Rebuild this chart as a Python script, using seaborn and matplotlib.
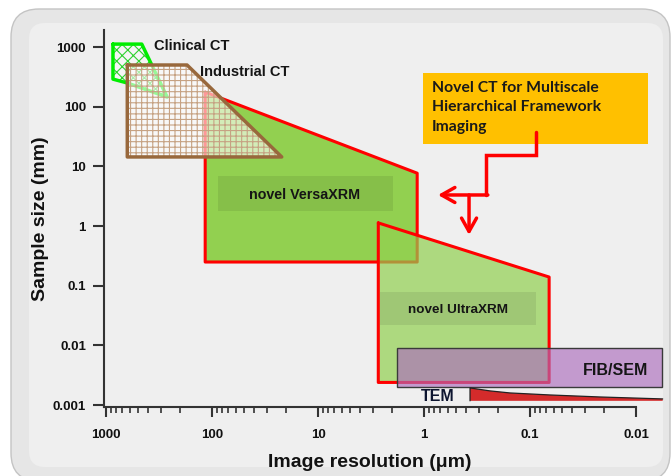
import numpy as np
import pandas as pd
import seaborn as sns
import matplotlib.pyplot as plt
from matplotlib.patches import FancyBboxPatch
from matplotlib.ticker import LogLocator, NullLocator, NullFormatter, FixedLocator, FixedFormatter

# regions: image resolution (um) vs sample size (mm)
clinical_res = [860, 460, 265, 630, 860]
clinical_size = [1120, 1120, 145, 250, 290]
industrial_res = [630, 172, 22, 630]
industrial_size = [500, 500, 14.4, 14.4]
versa_res = [116, 1.16, 1.16, 116]
versa_size = [176, 7.7, 0.25, 0.25]
ultra_res = [2.7, 0.066, 0.066, 2.7]
ultra_size = [1.13, 0.14, 0.0024, 0.0024]
fib_res = [1.8, 0.0057, 0.0057, 1.8]
fib_size = [0.0091, 0.0091, 0.002, 0.002]
tem_res = [0.368, 0.238, 0.155, 0.065, 0.022, 0.0056, 0.0056, 0.368]
tem_size = [0.00194, 0.00173, 0.0016, 0.00148, 0.00137, 0.00127, 0.00118, 0.00118]

res_ticks = [1000, 100, 10, 1, 0.1, 0.01]
res_labels = ['1000', '100', '10', '1', '0.1', '0.01']
size_ticks = [1000, 100, 10, 1, 0.1, 0.01, 0.001]
size_labels = ['1000', '100', '10', '1', '0.1', '0.01', '0.001']

shapes = {
    'Clinical CT': (clinical_res, clinical_size),
    'Industrial CT': (industrial_res, industrial_size),
    'VersaXRM': (versa_res, versa_size),
    'UltraXRM': (ultra_res, ultra_size),
}
df = pd.concat([pd.DataFrame({'shape': k, 'res': r + r[:1], 'size': s + s[:1]})
                for k, (r, s) in shapes.items()], ignore_index=True)

sns.set_theme(style='ticks')
plt.rcParams['font.family'] = ['Liberation Sans', 'DejaVu Sans']
plt.rcParams['hatch.linewidth'] = 0.8

fig = plt.figure(figsize=(6.71, 4.76), dpi=100)
fig.patch.set_facecolor('white')
# rounded grey slide panel
fig.add_artist(FancyBboxPatch((0.11, -0.05), 6.59, 4.72, boxstyle='round,pad=0,rounding_size=0.28',
                              transform=fig.dpi_scale_trans, facecolor='#e6e6e6', edgecolor='#c4c4c4',
                              lw=1, zorder=-10))
fig.add_artist(FancyBboxPatch((0.29, 0.09), 6.34, 4.44, boxstyle='round,pad=0,rounding_size=0.16',
                              transform=fig.dpi_scale_trans, facecolor='#efefef', edgecolor='none',
                              zorder=-9))

ax = fig.add_axes([104 / 671, 69 / 476, 532 / 671, 377 / 476])
ax.set_facecolor('none')
ax.set_xscale('log')
ax.set_yscale('log')

# VersaXRM
ax.fill(versa_res, versa_size, color='#92d050', lw=0, zorder=1)
sns.lineplot(data=df[df['shape'] == 'VersaXRM'], x='res', y='size', sort=False, estimator=None,
             color='red', lw=2.2, zorder=1.1, ax=ax, legend=False)
# Clinical CT
ax.fill(clinical_res, clinical_size, facecolor='white', alpha=0.4, lw=0, zorder=1.5)
ax.fill(clinical_res, clinical_size, facecolor='none', edgecolor='#2fd12f', hatch='xxx', lw=0, zorder=1.55)
sns.lineplot(data=df[df['shape'] == 'Clinical CT'], x='res', y='size', sort=False, estimator=None,
             color='#00ee00', lw=2.5, zorder=1.6, ax=ax, legend=False)
# Industrial CT
ax.fill(industrial_res, industrial_size, facecolor='white', alpha=0.6, lw=0, zorder=2)
ax.fill(industrial_res, industrial_size, facecolor='none', edgecolor='#c6a283', hatch='+++', lw=0, zorder=2.1)
sns.lineplot(data=df[df['shape'] == 'Industrial CT'], x='res', y='size', sort=False, estimator=None,
             color='#98683c', lw=2.5, zorder=2.2, ax=ax, legend=False)
# UltraXRM
ax.fill(ultra_res, ultra_size, color='#92d050', alpha=0.7, lw=0, zorder=3)
sns.lineplot(data=df[df['shape'] == 'UltraXRM'], x='res', y='size', sort=False, estimator=None,
             color='red', lw=2.2, zorder=3.1, ax=ax, legend=False)
# FIB/SEM and TEM
ax.fill(fib_res, fib_size, facecolor='#ac6dbd', alpha=0.65, edgecolor='none', zorder=4, clip_on=False)
ax.fill(fib_res, fib_size, facecolor='none', edgecolor='#3a3a3a', lw=1, zorder=4.1, clip_on=False)
ax.fill(tem_res, tem_size, facecolor='#d42b2b', edgecolor='none', zorder=4, clip_on=False)
ax.plot(tem_res[-1:] + tem_res[:6], tem_size[-1:] + tem_size[:6], color='#222222', lw=0.9,
        zorder=4.1, clip_on=False)

# label plates
ax.fill([87.7, 1.96, 1.96, 87.7], [6.9, 6.9, 1.79, 1.79], color='black', alpha=0.08, lw=0, zorder=3.2)
ax.fill([2.6, 0.0877, 0.0877, 2.6], [0.0787, 0.0787, 0.022, 0.022], color='black', alpha=0.08, lw=0, zorder=3.2)

lab = dict(fontweight='bold', color='#151515', va='center')
ax.text(352, 1040, 'Clinical CT', ha='left', fontsize=10.5, **lab, zorder=6)
ax.text(130, 380, 'Industrial CT', ha='left', fontsize=10.5, **lab, zorder=6)
ax.text(13.3, 3.3, 'novel VersaXRM', ha='center', fontsize=10.3, **lab, zorder=6)
ax.text(0.478, 0.0394, 'novel UltraXRM', ha='center', fontsize=9.7, **lab, zorder=6)
ax.text(0.0077, 0.00374, 'FIB/SEM', ha='right', fontsize=11.5, **lab, zorder=6)
ax.text(0.738, 0.00137, 'TEM', ha='center', fontsize=11.5, fontweight='bold', color='#0d1530',
        va='center', zorder=6)

# callout box and arrows
ax.fill([1.02, 0.0077, 0.0077, 1.02], [366, 366, 23.7, 23.7], color='#ffc000', lw=0, zorder=5, clip_on=False)
ax.text(0.84, 275, 'Novel CT for Multiscale\nHierarchical Framework\nImaging', ha='left', va='top',
        fontsize=11.3, fontweight='bold', family=['Lato', 'DejaVu Sans'], color='#1a1a1a',
        linespacing=1.5, zorder=6)
ax.plot([0.0877, 0.0877, 0.26, 0.26], [37.7, 15.5, 15.5, 3.32], color='red', lw=2.5, zorder=5,
        solid_joinstyle='miter')
arrow = dict(arrowstyle='->,head_length=0.8,head_width=0.45', color='red', lw=2.5,
             shrinkA=0, shrinkB=0)
ax.annotate('', xy=(0.738, 3.32), xytext=(0.25, 3.32), arrowprops=arrow, zorder=5)
ax.annotate('', xy=(0.376, 0.71), xytext=(0.376, 3.32), arrowprops=arrow, zorder=5)

ax.set_xlim(1045, 0.01)
ax.set_ylim(0.00093, 1930)
ax.xaxis.set_major_locator(FixedLocator(res_ticks))
ax.xaxis.set_major_formatter(FixedFormatter(res_labels))
ax.xaxis.set_minor_locator(LogLocator(base=10, subs=np.arange(2, 10)))
ax.xaxis.set_minor_formatter(NullFormatter())
ax.yaxis.set_major_locator(FixedLocator(size_ticks))
ax.yaxis.set_major_formatter(FixedFormatter(size_labels))
ax.yaxis.set_minor_locator(NullLocator())

sns.despine(ax=ax)
for side in ['left', 'bottom']:
    ax.spines[side].set_color('#333333')
    ax.spines[side].set_linewidth(1.5)
ax.tick_params(axis='x', which='major', length=7, width=1.5, color='#333333', pad=9)
ax.tick_params(axis='x', which='minor', length=4.5, width=1.2, color='#333333')
ax.tick_params(axis='y', which='major', length=8, width=1.5, color='#333333', pad=5)
for t in ax.get_xticklabels() + ax.get_yticklabels():
    t.set_fontweight('bold')
    t.set_fontsize(9.5)
    t.set_color('#111111')

ax.set_xlabel('Image resolution (μm)', fontsize=14, fontweight='bold', color='#111111', labelpad=9)
ax.set_ylabel('Sample size (mm)', fontsize=14, fontweight='bold', color='#111111', labelpad=3)

fig.savefig('out.png', dpi=100)
